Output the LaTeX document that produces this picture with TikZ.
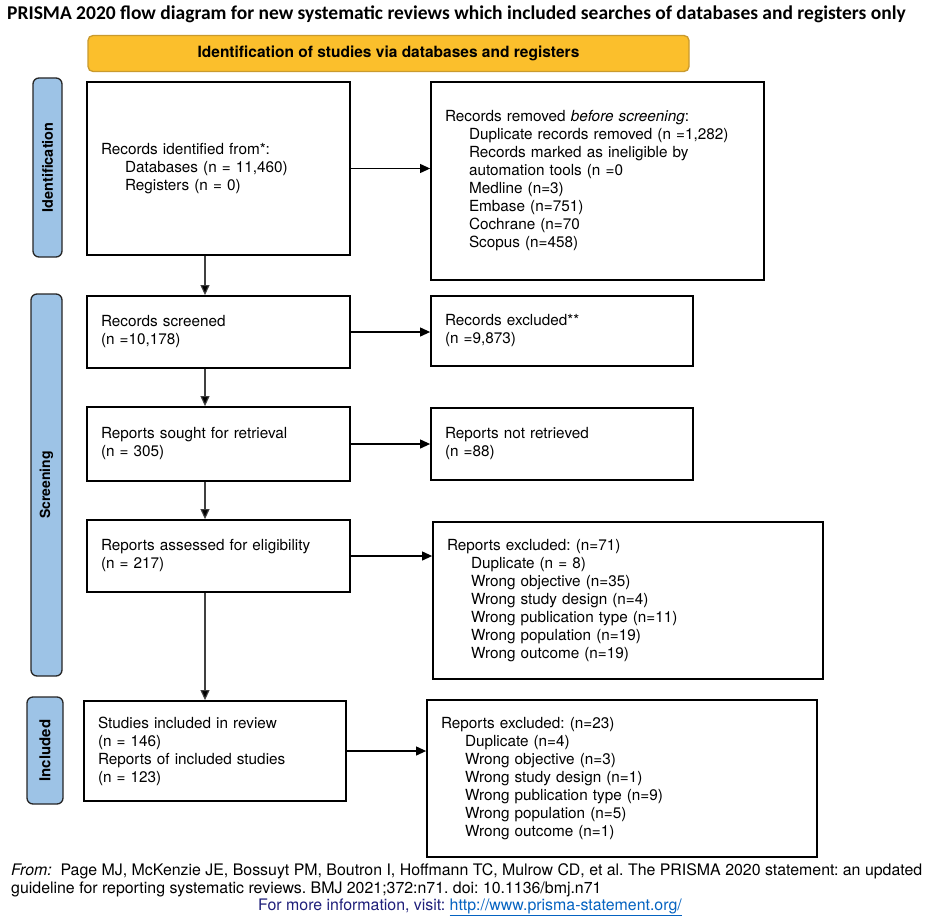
\documentclass[tikz,border=0pt]{standalone}
\usepackage{fontspec}
\setmainfont{TeX Gyre Heros}
\newfontfamily\calib{Carlito}
\usetikzlibrary{arrows.meta}
\definecolor{bannerfill}{HTML}{FBBF2C}
\definecolor{bannerdraw}{HTML}{C99A2E}
\definecolor{sidefill}{HTML}{9DC3E6}
\definecolor{footblue}{HTML}{1F1F7A}
\definecolor{linkblue}{HTML}{0563C1}
\frenchspacing
\begin{document}
\begin{tikzpicture}[x=1pt,y=-1pt,
  box/.style={draw, line width=1.8pt, align=left, inner xsep=14pt, inner ysep=0pt,
    font=\fontsize{15.3}{18}\selectfont},
  side/.style={draw=black!85, line width=1.3pt, fill=sidefill, rounded corners=6pt,
    rotate=90, inner sep=0pt},
  banner/.style={draw=bannerdraw, line width=1.3pt, fill=bannerfill, rounded corners=5pt,
    inner sep=0pt, font=\bfseries\fontsize{15.5}{18}\selectfont},
  arr/.style={-{Triangle[length=10pt,width=9pt]}, line width=1.1pt},
  varr/.style={arr, draw=black!75, -{Triangle[length=10pt,width=9pt,fill=black]}},
  foot/.style={anchor=west, inner sep=0pt, font=\fontsize{15.9}{18}\selectfont}
]
\useasboundingbox (0,0) rectangle (936,923);
\fill[white] (0,0) rectangle (936,923);
\newcommand{\ind}{\hspace*{24pt}}

\node[anchor=west, inner sep=0pt, font=\calib\bfseries\fontsize{19.5}{22}\selectfont] (title) at (7,14)
  {PRISMA 2020 flow diagram for new systematic reviews which included searches of databases and registers only};

\node[banner, minimum width=601pt, minimum height=36pt] (ban) at (388.5,53.5)
  {Identification of studies via databases and registers};

\node[side, minimum width=179pt, minimum height=29pt, font=\bfseries\fontsize{14.5}{16}\selectfont] (sid) at (47.5,167.5) {Identification};
\node[side, minimum width=382pt, minimum height=31pt, font=\bfseries\fontsize{14}{16}\selectfont] (sscr) at (46.5,485) {Screening};
\node[side, minimum width=107pt, minimum height=36pt, font=\bfseries\fontsize{15}{16}\selectfont] (sinc) at (45,750.5) {Included};

\node[box, minimum width=263pt, minimum height=173pt, text width=235pt] (A) at (218.5,168.5)
  {Records identified from*:\\ \ind Databases (n = 11,460)\\ \ind Registers (n = 0)};
\node[box, minimum width=333pt, minimum height=198pt, text width=305pt] (B) at (597.5,181)
  {Records removed \textit{before screening}:\\
   \ind Duplicate records removed (n =1,282)\\
   \ind Records marked as ineligible by\\
   \ind automation tools (n =0\\
   \ind Medline (n=3)\\
   \ind Embase (n=751)\\
   \ind Cochrane (n=70\\
   \ind Scopus (n=458)};
\node[box, minimum width=263pt, minimum height=72pt, text width=235pt] (C) at (218.5,332)
  {Records screened\\(n =10,178)};
\node[box, minimum width=262pt, minimum height=70pt, text width=234pt] (D) at (562,331)
  {Records excluded**\\(n =9,873)};
\node[box, minimum width=263pt, minimum height=74pt, text width=235pt] (E) at (218.5,444)
  {Reports sought for retrieval\\(n = 305)};
\node[box, minimum width=262pt, minimum height=72pt, text width=234pt] (F) at (562,444)
  {Reports not retrieved\\(n =88)};
\node[box, minimum width=263pt, minimum height=72pt, text width=235pt] (G) at (218.5,556)
  {Reports assessed for eligibility\\(n = 217)};
\node[box, minimum width=390pt, minimum height=157pt, text width=362pt] (H) at (628,600.5)
  {Reports excluded: (n=71)\\
   \ind Duplicate (n = 8)\\
   \ind Wrong objective (n=35)\\
   \ind Wrong study design (n=4)\\
   \ind Wrong publication type (n=11)\\
   \ind Wrong population (n=19)\\
   \ind Wrong outcome (n=19)};
\node[box, minimum width=262pt, minimum height=100pt, text width=234pt] (I) at (215,751)
  {Studies included in review\\(n = 146)\\Reports of included studies\\(n = 123)};
\node[box, minimum width=390pt, minimum height=157pt, text width=362pt] (J) at (622,778.5)
  {Reports excluded: (n=23)\\
   \ind Duplicate (n=4)\\
   \ind Wrong objective (n=3)\\
   \ind Wrong study design (n=1)\\
   \ind Wrong publication type (n=9)\\
   \ind Wrong population (n=5)\\
   \ind Wrong outcome (n=1)};

\coordinate (vx) at (205,0);
\draw[arr] (A.east) -- (A.east -| B.west);
\draw[arr] (C.east) -- (C.east -| D.west);
\draw[arr] (E.east) -- (E.east -| F.west);
\draw[arr] (G.east) -- (G.east -| H.west);
\draw[arr] (I.east) -- (I.east -| J.west);
\draw[varr] (A.south -| vx) -- (C.north -| vx);
\draw[varr] (C.south -| vx) -- (E.north -| vx);
\draw[varr] (E.south -| vx) -- (G.north -| vx);
\draw[varr] (G.south -| vx) -- (I.north -| vx);

\node[foot] (f1) at (11,871) {\textit{From:}\ \ Page MJ, McKenzie JE, Bossuyt PM, Boutron I, Hoffmann TC, Mulrow CD, et al. The PRISMA 2020 statement: an updated};
\node[foot] (f2) at (11,889) {guideline for reporting systematic reviews. BMJ 2021;372:n71. doi: 10.1136/bmj.n71};
\node[foot, anchor=center] (f3) at (470,907) {\color{footblue}For more information, visit: \color{linkblue}\underline{http://www.prisma-statement.org/}};
\end{tikzpicture}
\end{document}
